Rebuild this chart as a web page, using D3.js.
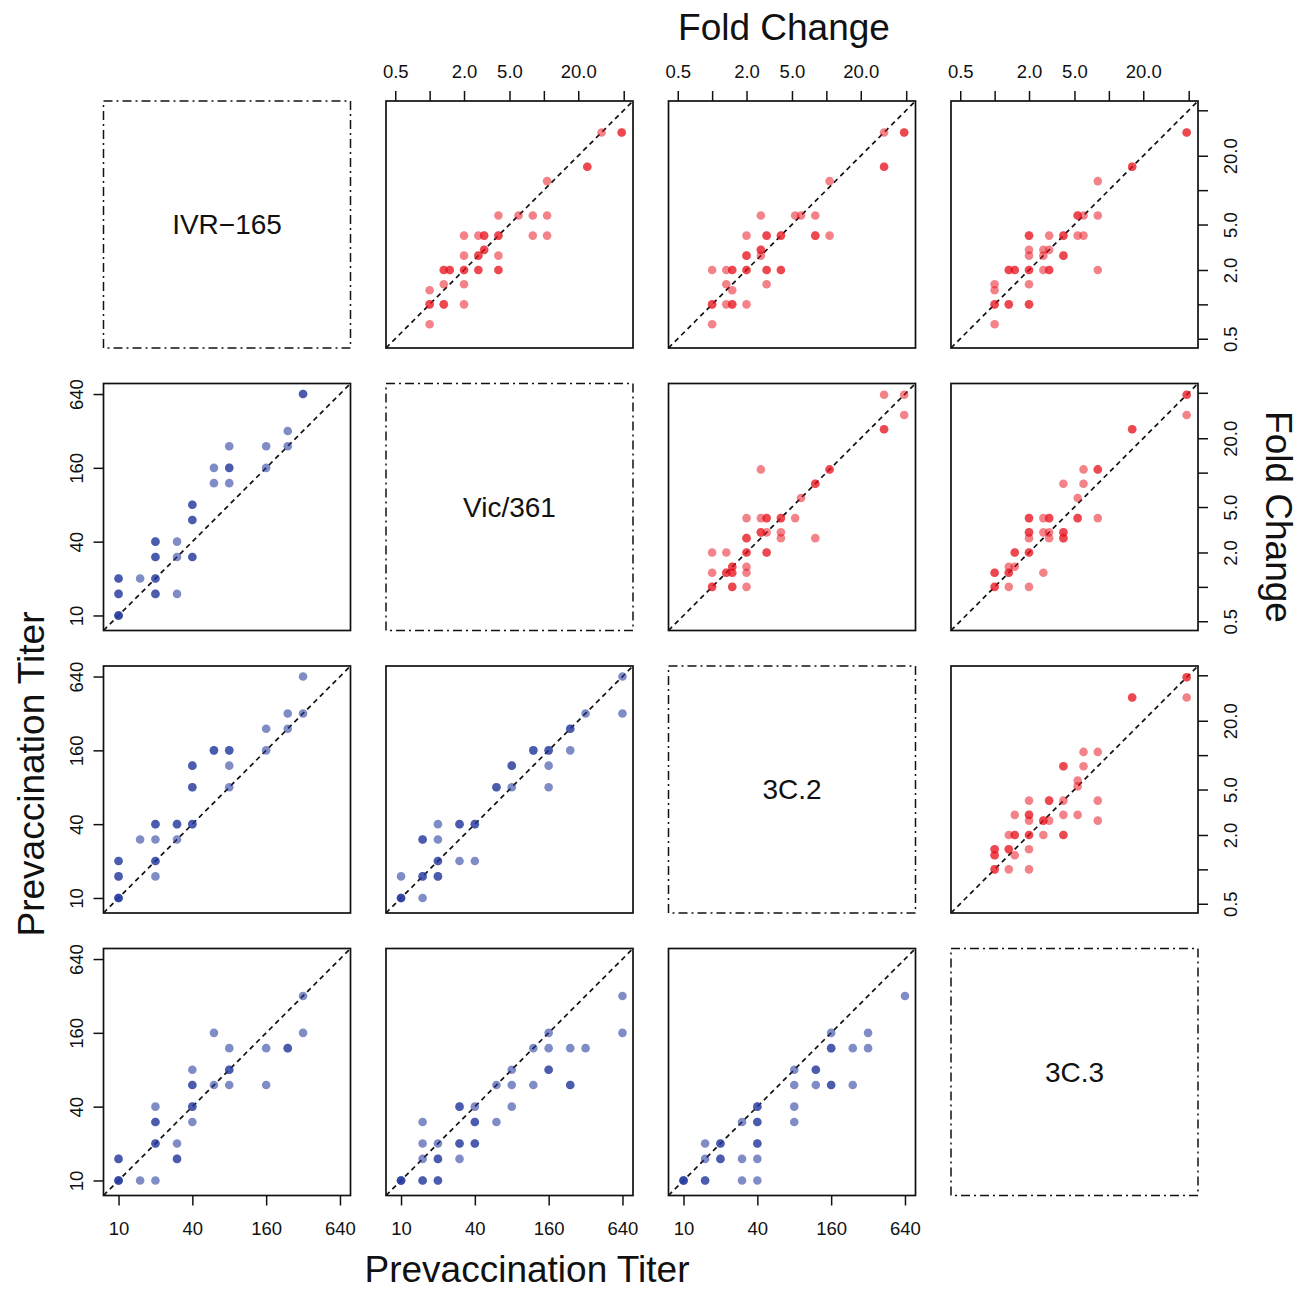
<!DOCTYPE html>
<html>
<head>
<meta charset="utf-8">
<script src="https://cdn.jsdelivr.net/npm/d3@7"></script>
<style>
  body { margin: 0; background: #fff; }
  svg { display: block; }
</style>
</head>
<body>
<div id="chart"></div>
<script>
const STRAINS = ['IVR\u2212165', 'Vic/361', '3C.2', '3C.3']
const TITER_TICKS = [10, 40, 160, 640]
const FOLD_TICKS = [0.5, 1, 2, 5, 10, 20, 50]
const FOLD_LABELS = ['0.5', '', '2.0', '5.0', '', '20.0', '']

// lower panels: prevaccination titer, [x strain (column), y strain (row)]
const titerR1C0 = [[320,640],[320,640],[240,320],[240,240],[160,240],[160,160],[80,240],[80,160],[80,160],[80,120],[60,160],[60,120],[40,80],[40,80],[40,60],[40,60],[40,30],[40,30],[30,40],[30,30],[30,15],[20,40],[20,40],[20,30],[20,30],[20,20],[20,20],[20,15],[20,15],[15,20],[10,20],[10,20],[10,15],[10,15],[10,10],[10,10],[10,10]]
const titerR2C0 = [[320,640],[240,320],[320,320],[160,240],[240,240],[160,160],[60,160],[60,160],[80,160],[80,160],[40,120],[40,120],[80,120],[40,80],[40,80],[80,80],[20,40],[20,40],[30,40],[30,40],[40,40],[40,40],[15,30],[20,30],[30,30],[10,20],[10,20],[20,20],[20,20],[10,15],[10,15],[20,15],[10,10],[10,10],[10,10]]
const titerR2C1 = [[640,640],[640,320],[320,320],[240,240],[240,240],[240,160],[120,160],[120,160],[160,160],[160,160],[160,120],[160,80],[80,120],[80,120],[60,80],[60,80],[80,80],[20,40],[30,40],[30,40],[40,40],[40,40],[15,30],[15,30],[20,30],[20,20],[20,20],[30,20],[40,20],[10,15],[15,15],[15,15],[20,15],[20,15],[10,10],[10,10],[10,10],[15,10]]
const titerR3C0 = [[320,320],[320,160],[240,120],[240,120],[160,120],[160,60],[80,120],[80,80],[80,80],[80,60],[60,160],[60,60],[40,80],[40,60],[40,60],[40,40],[40,40],[40,30],[20,40],[20,30],[20,30],[20,20],[20,20],[20,10],[30,20],[30,15],[30,15],[15,10],[10,15],[10,15],[10,10],[10,10],[10,10]]
const titerR3C1 = [[640,320],[640,160],[160,160],[120,120],[160,120],[240,120],[320,120],[160,80],[160,80],[80,80],[60,60],[80,60],[120,60],[240,60],[240,60],[80,40],[30,40],[30,40],[40,40],[15,30],[40,30],[40,30],[60,30],[15,20],[20,20],[30,20],[30,20],[40,20],[40,20],[15,15],[20,15],[20,15],[30,15],[10,10],[10,10],[10,10],[15,10],[15,10],[20,10],[20,10]]
const titerR3C2 = [[640,320],[160,160],[320,160],[160,120],[160,120],[240,120],[320,120],[80,80],[120,80],[120,80],[80,60],[120,60],[160,60],[160,60],[240,60],[80,40],[80,30],[40,40],[40,40],[30,30],[40,30],[40,30],[15,20],[20,20],[20,20],[40,20],[40,20],[15,15],[20,15],[20,15],[30,15],[40,15],[10,10],[10,10],[10,10],[15,10],[15,10],[30,10],[40,10]]

// upper panels: fold change, [x, y]
const foldR0C1 = [[32,32],[48,32],[48,32],[24,16],[24,16],[10.67,12],[4,6],[6,6],[8,6],[10.67,6],[2,4],[2.67,4],[3,4],[3,4],[4,4],[4,4],[8,4],[10.67,4],[2,2.67],[2.67,2.67],[2.67,2.67],[3,3],[3,3],[4,2.67],[1.33,2],[1.33,2],[1.5,2],[1.5,2],[2,2],[2,2],[2.67,2],[2.67,2],[4,2],[4,2],[1,1.33],[1.33,1.5],[2,1.5],[1,1],[1,1],[1.33,1],[1.33,1],[2,1],[1,0.67]]
const foldR0C2 = [[32,32],[48,32],[48,32],[32,16],[32,16],[10.67,12],[2.67,6],[5.33,6],[6,6],[8,6],[2,4],[3,4],[3,4],[4,4],[4,4],[8,4],[8,4],[10.67,4],[2.67,3],[2.67,3],[2.67,2.67],[2,2.67],[2,2.67],[1,2],[1.33,2],[1.5,2],[1.5,2],[2,2],[2,2],[3,2],[3,2],[4,2],[4,2],[1.33,1.5],[1.5,1.33],[3,1.5],[1,1],[1,1],[1.33,1],[1.5,1],[1.5,1],[2,1],[1,0.67]]
const foldR0C3 = [[48,32],[48,32],[16,16],[16,16],[8,12],[5.33,6],[5.33,6],[6,6],[8,6],[2,4],[2,4],[3,4],[4,4],[4,4],[5.33,4],[6,4],[2,3],[2,2.67],[2.67,3],[2.67,2.67],[3,3],[4,2.67],[4,2.67],[1.33,2],[1.33,2],[1.5,2],[1.5,2],[2,2],[2,2],[2.67,2],[3,2],[3,2],[8,2],[1,1.5],[1,1.33],[2,1.5],[1,1],[1,1],[1.33,1],[1.33,1],[2,1],[2,1],[1,0.67]]
const foldR1C2 = [[32,48],[48,48],[48,32],[32,24],[32,24],[2.67,10.67],[10.67,10.67],[10.67,10.67],[8,8],[8,8],[6,6],[2,4],[2.67,4],[3,4],[3,4],[4,4],[4,4],[5.33,4],[2.67,3],[2.67,3],[3,3],[4,3],[4,2.67],[8,2.67],[2,2.67],[2,2.67],[1,2],[1.33,2],[2,2],[2,2],[3,2],[3,2],[1.5,1.5],[1.5,1.5],[2,1.5],[1,1.33],[1.33,1.33],[1.33,1.33],[1.5,1.33],[1.5,1.33],[2,1.33],[1,1],[1,1],[1.5,1],[1.5,1],[2,1]]
const foldR1C3 = [[48,48],[48,48],[48,32],[16,24],[16,24],[6,10.67],[8,10.67],[8,10.67],[4,8],[6,8],[5.33,6],[2,4],[2,4],[2.67,4],[3,4],[3,4],[5.33,4],[5.33,4],[8,4],[2,3],[2,3],[2.67,3],[3,3],[4,3],[4,3],[2,2.67],[3,2.67],[4,2.67],[4,2.67],[1.5,2],[1.5,2],[2,2],[2,2],[1.33,1.5],[1.5,1.5],[1,1.33],[1,1.33],[1.33,1.33],[1.33,1.33],[2.67,1.33],[1,1],[1,1],[1.33,1],[2,1]]
const foldR2C3 = [[48,48],[48,48],[16,32],[16,32],[48,32],[6,10.67],[8,10.67],[4,8],[4,8],[6,8],[5.33,6],[5.33,5.33],[2,4],[3,4],[3,4],[4,4],[8,4],[1.5,3],[2,3],[2,3],[4,3],[5.33,3],[2,2.67],[2.67,2.67],[2.67,2.67],[3,2.67],[8,2.67],[1.33,2],[1.5,2],[1.5,2],[2,2],[2,2],[2.67,2],[4,2],[4,2],[1,1.5],[1,1.5],[1,1.33],[1,1.33],[1.33,1.5],[1.33,1.5],[1.5,1.33],[2,1.5],[1,1],[1,1],[1.33,1],[2,1]]

const panelData = {
    '1,0': titerR1C0, '2,0': titerR2C0, '2,1': titerR2C1,
    '3,0': titerR3C0, '3,1': titerR3C1, '3,2': titerR3C2,
    '0,1': foldR0C1, '0,2': foldR0C2, '0,3': foldR0C3,
    '1,2': foldR1C2, '1,3': foldR1C3, '2,3': foldR2C3,
}

const WIDTH = 1307
const HEIGHT = 1292
const PANEL = 247
const COL_X = [103.5, 386, 668.5, 951]
const ROW_Y = [101, 383.5, 666, 948.5]
const FONT = "'Liberation Sans', Arial, Helvetica, sans-serif"
const BLUE = '#24389c'
const RED = '#e8121c'
const INK = '#111'
const TICK_FONT = 18.5

const svg = d3.select('#chart')
    .append('svg')
    .attr('width', WIDTH)
    .attr('height', HEIGHT)
    .style('background', '#fff')

const titerX = d3.scaleLog().base(2).domain([7.54, 780]).range([0, PANEL])
const titerY = d3.scaleLog().base(2).domain([7.54, 780]).range([PANEL, 0])
const foldX = d3.scaleLog().base(2).domain([0.415, 60.3]).range([0, PANEL])
const foldY = d3.scaleLog().base(2).domain([0.415, 60.3]).range([PANEL, 0])

function styleAxis(g, size) {
    g.select('.domain').remove()
    g.selectAll('line').attr('stroke', INK).attr('stroke-width', 1.5)
    g.selectAll('text')
        .attr('fill', INK)
        .attr('font-size', size)
        .attr('font-family', FONT)
}

for (let r = 0; r < 4; r++) {
    for (let c = 0; c < 4; c++) {
        const panel = svg.append('g')
            .attr('transform', `translate(${COL_X[c]}, ${ROW_Y[r]})`)

        if (r === c) {
            /**
             * Diagonal: strain name in a dot-dash box
             */
            panel.append('rect')
                .attr('width', PANEL)
                .attr('height', PANEL)
                .attr('fill', 'none')
                .attr('stroke', INK)
                .attr('stroke-width', 1.5)
                .attr('stroke-dasharray', '9,4,2,4')
            panel.append('text')
                .attr('x', PANEL / 2)
                .attr('y', PANEL / 2)
                .attr('dy', '0.35em')
                .attr('text-anchor', 'middle')
                .attr('font-family', FONT)
                .attr('font-size', 28)
                .attr('fill', INK)
                .text(STRAINS[r])
            continue
        }

        const lower = r > c
        const sx = lower ? titerX : foldX
        const sy = lower ? titerY : foldY
        const dom = sx.domain()

        panel.append('line')
            .attr('x1', sx(dom[0]))
            .attr('y1', sy(dom[0]))
            .attr('x2', sx(dom[1]))
            .attr('y2', sy(dom[1]))
            .attr('stroke', INK)
            .attr('stroke-width', 1.7)
            .attr('stroke-dasharray', '5,4')

        panel.selectAll('circle')
            .data(panelData[`${r},${c}`])
            .enter()
            .append('circle')
            .attr('cx', d => sx(d[0]))
            .attr('cy', d => sy(d[1]))
            .attr('r', 4.3)
            .attr('fill', lower ? BLUE : RED)
            .attr('fill-opacity', lower ? 0.58 : 0.52)

        panel.append('rect')
            .attr('width', PANEL)
            .attr('height', PANEL)
            .attr('fill', 'none')
            .attr('stroke', INK)
            .attr('stroke-width', 1.7)

        /**
         * Axes on the outer edges
         */
        if (r === 0) {
            panel.append('g')
                .call(d3.axisTop(foldX).tickValues(FOLD_TICKS)
                    .tickFormat((d, i) => FOLD_LABELS[i])
                    .tickSize(10).tickSizeOuter(0).tickPadding(13))
                .call(g => styleAxis(g, TICK_FONT))
        }
        if (r === 3) {
            panel.append('g')
                .attr('transform', `translate(0, ${PANEL})`)
                .call(d3.axisBottom(titerX).tickValues(TITER_TICKS)
                    .tickFormat(d3.format('d'))
                    .tickSize(10).tickSizeOuter(0).tickPadding(16))
                .call(g => styleAxis(g, TICK_FONT))
        }
        if (c === 0) {
            panel.append('g')
                .call(d3.axisLeft(titerY).tickValues(TITER_TICKS)
                    .tickFormat(d3.format('d'))
                    .tickSize(10).tickSizeOuter(0))
                .call(g => styleAxis(g, TICK_FONT))
                .selectAll('text')
                .attr('transform', 'rotate(-90)')
                .attr('x', 0)
                .attr('y', -21)
                .attr('dy', 0)
                .attr('text-anchor', 'middle')
        }
        if (c === 3) {
            panel.append('g')
                .attr('transform', `translate(${PANEL}, 0)`)
                .call(d3.axisRight(foldY).tickValues(FOLD_TICKS)
                    .tickFormat((d, i) => FOLD_LABELS[i])
                    .tickSize(10).tickSizeOuter(0))
                .call(g => styleAxis(g, TICK_FONT))
                .selectAll('text')
                .attr('transform', 'rotate(-90)')
                .attr('x', 0)
                .attr('y', 39)
                .attr('dy', 0)
                .attr('text-anchor', 'middle')
        }
    }
}

/**
 * Outer titles
 */
const titleFont = 37
svg.append('text')
    .attr('x', 784)
    .attr('y', 40)
    .attr('text-anchor', 'middle')
    .attr('font-family', FONT)
    .attr('font-size', titleFont)
    .attr('fill', INK)
    .text('Fold Change')

svg.append('text')
    .attr('x', 527)
    .attr('y', 1282)
    .attr('text-anchor', 'middle')
    .attr('font-family', FONT)
    .attr('font-size', titleFont)
    .attr('fill', INK)
    .text('Prevaccination Titer')

svg.append('text')
    .attr('transform', 'translate(44, 774) rotate(-90)')
    .attr('text-anchor', 'middle')
    .attr('font-family', FONT)
    .attr('font-size', titleFont)
    .attr('fill', INK)
    .text('Prevaccination Titer')

svg.append('text')
    .attr('transform', 'translate(1266, 517) rotate(90)')
    .attr('text-anchor', 'middle')
    .attr('font-family', FONT)
    .attr('font-size', titleFont)
    .attr('fill', INK)
    .text('Fold Change')
</script>
</body>
</html>
